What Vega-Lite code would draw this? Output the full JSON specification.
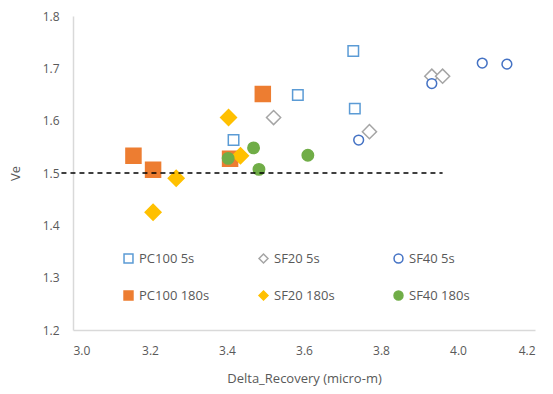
{
  "$schema": "https://vega.github.io/schema/vega-lite/v6.json",
  "width": 462,
  "height": 314,
  "autosize": {"type": "none"},
  "padding": {"left": 73, "top": 16, "right": 18, "bottom": 64},
  "background": "white",
  "config": {
    "view": {"stroke": null},
    "font": "Open Sans",
    "axis": {"grid": false, "ticks": false, "domainColor": "#d9d9d9", "domainWidth": 1.5, "labelColor": "#595959", "labelFontSize": 12, "titleColor": "#595959", "titleFontSize": 13, "titleFontWeight": "normal"},
    "legend": {"orient": "none", "legendX": 49, "legendY": 236, "padding": 0, "columns": 3, "columnPadding": 46, "rowPadding": 22, "gridAlign": "all", "symbolSize": 80, "symbolStrokeWidth": 1.5, "labelFontSize": 13, "labelColor": "#595959", "labelOffset": 4}
  },
  "layer": [
    {
      "data": {"values": [
        {"x": 3.728, "y": 1.733, "series": "PC100 5s"},
        {"x": 3.584, "y": 1.649, "series": "PC100 5s"},
        {"x": 3.732, "y": 1.623, "series": "PC100 5s"},
        {"x": 3.417, "y": 1.563, "series": "PC100 5s"},
        {"x": 3.493, "y": 1.651, "series": "PC100 180s"},
        {"x": 3.157, "y": 1.533, "series": "PC100 180s"},
        {"x": 3.208, "y": 1.506, "series": "PC100 180s"},
        {"x": 3.408, "y": 1.527, "series": "PC100 180s"},
        {"x": 3.521, "y": 1.606, "series": "SF20 5s"},
        {"x": 3.770, "y": 1.579, "series": "SF20 5s"},
        {"x": 3.932, "y": 1.685, "series": "SF20 5s"},
        {"x": 3.960, "y": 1.685, "series": "SF20 5s"},
        {"x": 3.742, "y": 1.563, "series": "SF40 5s"},
        {"x": 3.932, "y": 1.671, "series": "SF40 5s"},
        {"x": 4.063, "y": 1.710, "series": "SF40 5s"},
        {"x": 4.127, "y": 1.708, "series": "SF40 5s"},
        {"x": 3.404, "y": 1.606, "series": "SF20 180s"},
        {"x": 3.435, "y": 1.533, "series": "SF20 180s"},
        {"x": 3.268, "y": 1.490, "series": "SF20 180s"},
        {"x": 3.208, "y": 1.425, "series": "SF20 180s"},
        {"x": 3.403, "y": 1.528, "series": "SF40 180s"},
        {"x": 3.469, "y": 1.548, "series": "SF40 180s"},
        {"x": 3.483, "y": 1.507, "series": "SF40 180s"},
        {"x": 3.610, "y": 1.534, "series": "SF40 180s"}
      ]},
      "encoding": {
        "x": {"field": "x", "type": "quantitative", "scale": {"domain": [3.0, 4.2], "nice": false, "zero": false}, "axis": {"values": [3.0, 3.2, 3.4, 3.6, 3.8, 4.0, 4.2], "format": ".1f", "title": "Delta_Recovery (micro-m)", "labelPadding": 15, "titlePadding": 16}},
        "y": {"field": "y", "type": "quantitative", "scale": {"domain": [1.2, 1.8], "nice": false, "zero": false}, "axis": {"values": [1.2, 1.3, 1.4, 1.5, 1.6, 1.7, 1.8], "format": ".1f", "title": "Ve", "labelPadding": 14, "titlePadding": 20}},
        "stroke": {"field": "series", "type": "nominal", "title": null, "scale": {"domain": ["PC100 5s", "PC100 180s", "SF20 5s", "SF20 180s", "SF40 5s", "SF40 180s"], "range": ["#5B9BD5", "#ED7D31", "#A5A5A5", "#FFC000", "#4472C4", "#70AD47"]}},
        "shape": {"field": "series", "type": "nominal", "title": null, "scale": {"domain": ["PC100 5s", "PC100 180s", "SF20 5s", "SF20 180s", "SF40 5s", "SF40 180s"], "range": ["square", "square", "diamond", "diamond", "circle", "circle"]}},
        "fill": {"field": "series", "type": "nominal", "title": null, "scale": {"domain": ["PC100 5s", "PC100 180s", "SF20 5s", "SF20 180s", "SF40 5s", "SF40 180s"], "range": ["white", "#ED7D31", "white", "#FFC000", "white", "#70AD47"]}}
      },
      "layer": [
        {"transform": [{"filter": "datum.series === 'PC100 5s'"}], "mark": {"type": "point", "strokeWidth": 1.5, "opacity": 1, "size": 110}},
        {"transform": [{"filter": "datum.series === 'PC100 180s'"}], "mark": {"type": "point", "strokeWidth": 1.5, "opacity": 1, "size": 225}},
        {"transform": [{"filter": "datum.series === 'SF20 5s'"}], "mark": {"type": "point", "strokeWidth": 1.5, "opacity": 1, "size": 200}},
        {"transform": [{"filter": "datum.series === 'SF40 5s'"}], "mark": {"type": "point", "strokeWidth": 1.5, "opacity": 1, "size": 95}},
        {"transform": [{"filter": "datum.series === 'SF20 180s'"}], "mark": {"type": "point", "strokeWidth": 1.5, "opacity": 1, "size": 250}},
        {"transform": [{"filter": "datum.series === 'SF40 180s'"}], "mark": {"type": "point", "strokeWidth": 1.5, "opacity": 1, "size": 130}}
      ]
    },
    {
      "data": {"values": [{"x": 2.97, "y": 1.5}, {"x": 3.96, "y": 1.5}]},
      "mark": {"type": "line", "color": "black", "strokeDash": [5, 4], "strokeWidth": 1.3, "clip": false},
      "encoding": {
        "x": {"field": "x", "type": "quantitative"},
        "y": {"field": "y", "type": "quantitative"}
      }
    }
  ]
}
